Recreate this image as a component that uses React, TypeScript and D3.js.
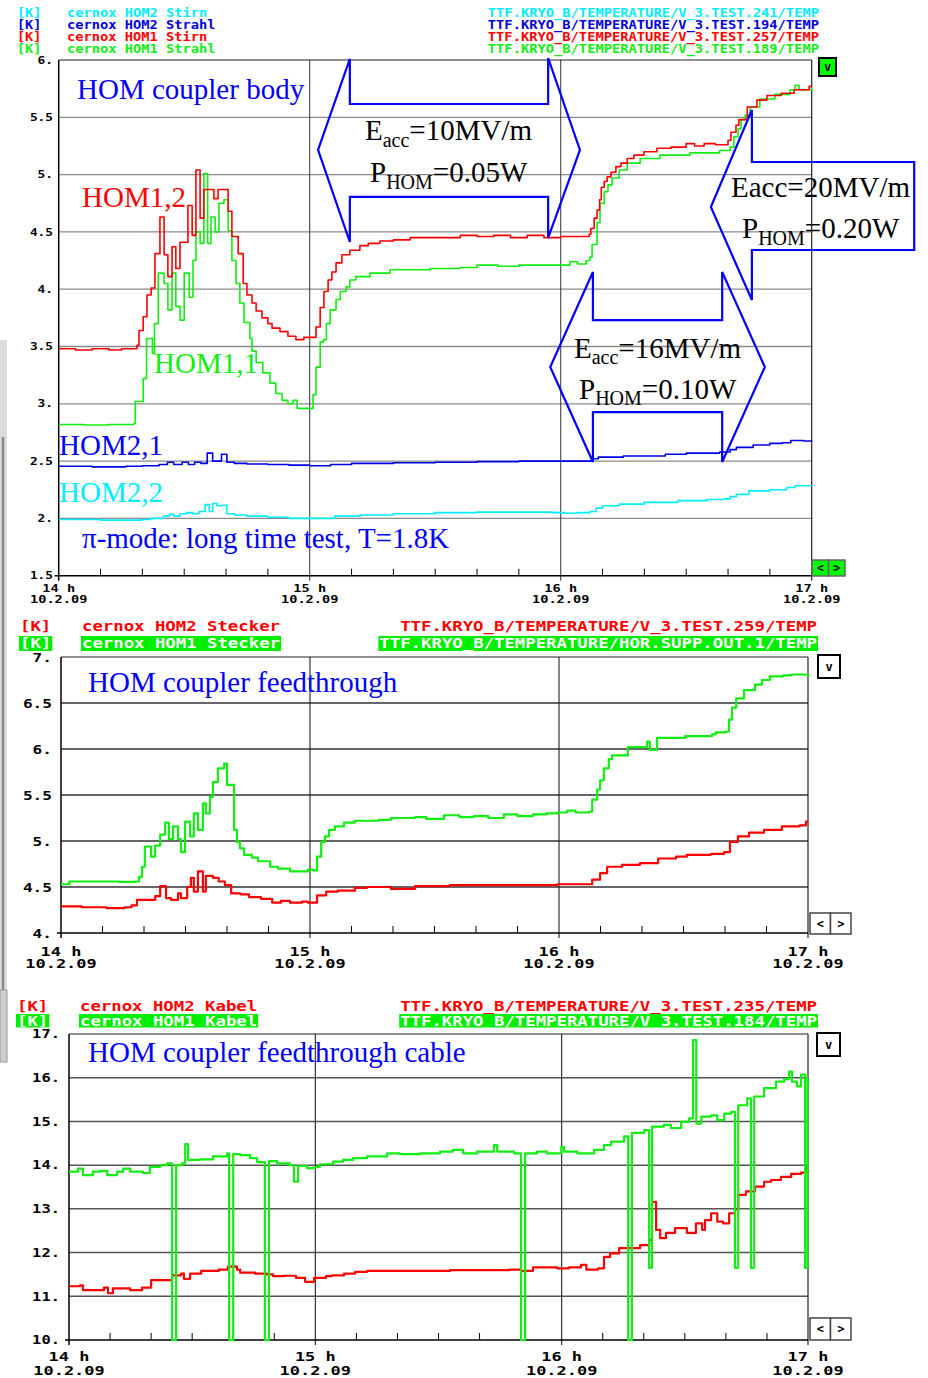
import React from "react";
import * as d3 from "d3";

type Pt = [number, number];

const MONO = "'DejaVu Sans Mono', 'Liberation Mono', monospace";
const SERIF = "'Liberation Serif', 'Times New Roman', serif";
const RED = "#ff0000";
const GREEN = "#11ee11";
const BLUE = "#0000ff";
const CYAN = "#00eeff";

// ---------- shared time axis (minutes after 14 h) ----------
const hourMinutes = [0, 60, 120, 180];
const hourLabels = ["14 h", "15 h", "16 h", "17 h"];
const dateLabels = ["10.2.09", "10.2.09", "10.2.09", "10.2.09"];

// ---------- panel 1: HOM coupler body ----------
const p1Levels = [6, 5.5, 5, 4.5, 4, 3.5, 3, 2.5, 2, 1.5];
const p1LevelLabels = ["6.", "5.5", "5.", "4.5", "4.", "3.5", "3.", "2.5", "2.", "1.5"];
const p1LegendNames = ["cernox HOM2 Stirn", "cernox HOM2 Strahl", "cernox HOM1 Stirn", "cernox HOM1 Strahl"];
const p1LegendChannels = [
  "TTF.KRYO_B/TEMPERATURE/V_3.TEST.241/TEMP",
  "TTF.KRYO_B/TEMPERATURE/V_3.TEST.194/TEMP",
  "TTF.KRYO_B/TEMPERATURE/V_3.TEST.257/TEMP",
  "TTF.KRYO_B/TEMPERATURE/V_3.TEST.189/TEMP",
];
const p1LegendColors = [CYAN, "#0000dd", RED, GREEN];

const p1Red: Pt[] = [
  [0, 3.48], [4, 3.47], [8, 3.48], [12, 3.47], [15, 3.48], [18.7, 3.51], [19.2, 3.64], [20.2, 3.76],
  [21.1, 3.95], [22.1, 4.01], [23, 4.31], [24.2, 4.63], [25.2, 4.3], [26.1, 4.11], [27.1, 4.37], [28, 4.18],
  [29, 4.41], [30.9, 4.73], [31.9, 4.47], [32.8, 5.04], [33.8, 4.62], [34.7, 4.87], [36.2, 4.87], [37.1, 4.79],
  [38.1, 4.87], [39.5, 4.87], [40.5, 4.68], [41.4, 4.46], [42.9, 4.31], [44.1, 4.05], [45, 3.95], [46.2, 3.88],
  [47.2, 3.81], [48.6, 3.75], [50, 3.7], [51, 3.66], [52.9, 3.63], [54.8, 3.59], [56.7, 3.56], [58.6, 3.58],
  [61.5, 3.67], [62.5, 3.84], [63.4, 3.98], [64.4, 4.08], [65.3, 4.15], [66.3, 4.23], [67.7, 4.3], [69.6, 4.34],
  [72, 4.38], [74, 4.4], [76.8, 4.42], [80, 4.43], [84, 4.45], [90, 4.45], [96, 4.47], [100, 4.46],
  [104, 4.47], [108, 4.45], [112, 4.47], [116, 4.45], [120, 4.46], [124, 4.46], [126.8, 4.48], [127.2, 4.53],
  [128, 4.62], [128.7, 4.69], [129.3, 4.78], [129.7, 4.89], [130.4, 4.94], [131.1, 4.98], [132, 5.02],
  [133.2, 5.07], [134.4, 5.1], [135.9, 5.14], [137.5, 5.17], [139.9, 5.2], [143, 5.23], [146.4, 5.24],
  [150, 5.27], [152, 5.25], [154.3, 5.27], [157, 5.26], [160, 5.3], [160.7, 5.37], [161.9, 5.43], [162.6, 5.48],
  [164.6, 5.59], [166.9, 5.65], [169.3, 5.69], [172.7, 5.71], [175.8, 5.74], [179.4, 5.77], [180, 5.77],
];
const p1Green: Pt[] = [
  [0, 2.82], [6, 2.815], [12, 2.82], [18, 2.83], [18.3, 3.02], [20.2, 3.22], [21, 3.57], [22.4, 3.44],
  [22.9, 3.7], [23.8, 4.14], [25.2, 4.05], [26.1, 3.82], [27.1, 4.14], [28, 3.85], [29, 3.73], [30, 4.14],
  [31.2, 3.93], [32.1, 4.25], [32.8, 4.5], [33.8, 4.4], [34.7, 5.01], [35.6, 4.4], [36.4, 4.63], [37.4, 4.5],
  [38.3, 4.75], [39.5, 4.78], [40.5, 4.51], [41.4, 4.25], [42.4, 4.05], [43.3, 3.88], [44.3, 3.71],
  [45.7, 3.57], [46.2, 3.46], [47.2, 3.36], [48.8, 3.27], [50.5, 3.18], [51.9, 3.09], [53.4, 3.03],
  [54.8, 3.0], [56, 3.03], [57, 2.96], [60.8, 3.08], [61.5, 3.32], [62.5, 3.54], [63.3, 3.56], [64, 3.7],
  [64.9, 3.82], [66.3, 3.91], [67.3, 3.98], [68.7, 4.02], [69.6, 4.08], [71, 4.11], [74.4, 4.14],
  [79.2, 4.17], [88.8, 4.18], [96, 4.19], [100, 4.21], [105, 4.2], [110, 4.21], [115, 4.21], [122.2, 4.24],
  [124, 4.22], [126.1, 4.25], [127, 4.28], [127.5, 4.39], [128.7, 4.58], [129.4, 4.75], [130.4, 4.85],
  [131.3, 4.91], [132.3, 4.97], [134, 5.04], [135.9, 5.1], [139, 5.14], [143.7, 5.17], [150.9, 5.19],
  [158, 5.21], [160.5, 5.24], [161.4, 5.33], [162.4, 5.4], [163.1, 5.48], [164.1, 5.52], [165.3, 5.59],
  [167.6, 5.66], [171.2, 5.7], [174.8, 5.74], [176, 5.78], [177, 5.74], [180, 5.76],
];
const p1Blue: Pt[] = [
  [0, 2.455], [8, 2.45], [16, 2.455], [20, 2.46], [24, 2.47], [26, 2.49], [27.5, 2.47], [29.5, 2.49],
  [31, 2.47], [32.5, 2.49], [34, 2.48], [35.5, 2.57], [36.8, 2.5], [38.9, 2.56], [40.2, 2.49], [42, 2.48],
  [45, 2.475], [50, 2.47], [55, 2.465], [60, 2.46], [65, 2.47], [70, 2.48], [80, 2.485], [90, 2.49],
  [100, 2.495], [110, 2.5], [118, 2.5], [126, 2.5], [127.5, 2.52], [129, 2.535], [135, 2.545], [145, 2.56],
  [150, 2.57], [158, 2.58], [160.5, 2.6], [162, 2.62], [166, 2.64], [170, 2.655], [173, 2.66], [175, 2.68],
  [178, 2.675], [180, 2.67],
];
const p1Cyan: Pt[] = [
  [0, 1.99], [10, 1.985], [20, 1.99], [22, 2.0], [25, 2.02], [26.5, 2.035], [27.5, 2.02], [29, 2.04],
  [30.5, 2.05], [32, 2.04], [33.5, 2.06], [35, 2.12], [36, 2.06], [36.8, 2.13], [37.8, 2.11], [39, 2.115],
  [40.2, 2.04], [42, 2.03], [45, 2.02], [50, 2.01], [55, 2.0], [60, 2.0], [66, 2.02], [72, 2.03], [80, 2.04],
  [90, 2.05], [100, 2.055], [110, 2.055], [118, 2.05], [121, 2.045], [124, 2.05], [127, 2.06], [128.5, 2.09],
  [130, 2.11], [134, 2.125], [140, 2.14], [148, 2.155], [155, 2.165], [159, 2.17], [160.5, 2.19],
  [162, 2.21], [165, 2.24], [170, 2.25], [174, 2.27], [176, 2.285], [180, 2.28],
];

// annotation arrows (minute, kelvin) in panel 1
const arrow10: Pt[] = [
  [62.0, 5.215], [69.6, 6.009], [69.6, 5.616], [117.0, 5.616], [117.0, 6.017], [124.6, 5.215],
  [117.0, 4.447], [117.0, 4.805], [69.6, 4.805], [69.6, 4.412],
];
const arrow16: Pt[] = [
  [117.5, 3.321], [127.7, 4.15], [127.7, 3.731], [158.6, 3.731], [158.6, 4.15], [168.8, 3.321],
  [158.6, 2.492], [158.6, 2.928], [127.7, 2.928], [127.7, 2.492],
];
const arrow20: Pt[] = [
  [155.9, 4.717], [165.7, 5.564], [165.7, 5.11], [204.5, 5.11], [204.5, 4.342], [165.7, 4.342], [165.7, 3.906],
];

// ---------- panel 2: HOM coupler feedthrough ----------
const p2Levels = [7, 6.5, 6, 5.5, 5, 4.5, 4];
const p2LevelLabels = ["7.", "6.5", "6.", "5.5", "5.", "4.5", "4."];
const p2LegendNames = ["cernox HOM2 Stecker", "cernox HOM1 Stecker"];
const p2LegendChannels = ["TTF.KRYO_B/TEMPERATURE/V_3.TEST.259/TEMP", "TTF.KRYO_B/TEMPERATURE/HOR.SUPP.OUT.1/TEMP"];

const p2Green: Pt[] = [
  [0, 4.53], [2, 4.56], [10, 4.56], [14, 4.555], [18, 4.56], [18.8, 4.61], [19.5, 4.72], [20.2, 4.94],
  [21.7, 4.83], [22.7, 4.95], [23.9, 5.07], [25.1, 5.2], [26, 5.02], [27, 5.16], [28.2, 5.02], [28.9, 4.88],
  [29.9, 5.21], [31.1, 5.05], [32, 5.3], [33, 5.12], [34.2, 5.41], [34.9, 5.3], [35.9, 5.48], [36.6, 5.64],
  [37.8, 5.79], [39.3, 5.84], [40, 5.61], [41.2, 5.61], [41.7, 5.12], [42.4, 4.99], [43.1, 4.92],
  [44.1, 4.85], [46, 4.82], [47.5, 4.78], [50.4, 4.72], [52.3, 4.7], [55.2, 4.67], [58.1, 4.67],
  [59.5, 4.69], [60.7, 4.68], [61.7, 4.83], [62.7, 4.99], [63.6, 5.05], [64.6, 5.12], [66, 5.16],
  [68.2, 5.2], [70.8, 5.22], [76.6, 5.23], [79.5, 5.25], [85.3, 5.26], [88, 5.24], [92.3, 5.28], [96, 5.26],
  [99.5, 5.27], [103, 5.25], [106.7, 5.29], [110, 5.27], [113.7, 5.29], [117, 5.3], [119.5, 5.31],
  [122, 5.33], [124, 5.31], [127.2, 5.32], [128, 5.45], [129.2, 5.56], [129.9, 5.66], [130.8, 5.79],
  [132, 5.89], [132.8, 5.93], [136.6, 6.02], [141.2, 6.08], [141.9, 5.99], [143.6, 6.12], [150.4, 6.14],
  [156.9, 6.16], [157.8, 6.18], [160.2, 6.19], [160.96, 6.32], [161.7, 6.45], [162.7, 6.55], [164.6, 6.64],
  [167.2, 6.7], [168.9, 6.75], [170.8, 6.79], [174, 6.8], [176, 6.81], [180, 6.78],
];
const p2Red: Pt[] = [
  [0, 4.29], [5, 4.28], [11, 4.27], [14, 4.27], [15.3, 4.28], [17, 4.3], [18.3, 4.36], [22.7, 4.4],
  [23.9, 4.51], [25.3, 4.38], [26.5, 4.36], [28.2, 4.43], [28.9, 4.38], [30.4, 4.5], [31.3, 4.6], [32, 4.45],
  [33, 4.67], [34.2, 4.45], [34.9, 4.62], [36.6, 4.6], [38, 4.56], [39.5, 4.52], [41, 4.43], [43.2, 4.42],
  [45.3, 4.39], [48.2, 4.37], [50.9, 4.33], [53, 4.35], [55.2, 4.33], [58.1, 4.34], [59.5, 4.33],
  [61.7, 4.41], [63.9, 4.45], [66.7, 4.46], [70.8, 4.49], [73.7, 4.5], [79.5, 4.48], [85.3, 4.51],
  [93.7, 4.52], [99.5, 4.52], [106.7, 4.52], [113.7, 4.52], [119.5, 4.53], [125.3, 4.53], [128, 4.58],
  [129.9, 4.65], [131.6, 4.72], [135.2, 4.74], [139.5, 4.76], [143.9, 4.81], [148.2, 4.83], [150.8, 4.85],
  [156.6, 4.86], [159.8, 4.88], [161.2, 4.99], [163.1, 5.05], [165.8, 5.09], [169.4, 5.12], [173.7, 5.16],
  [178, 5.17], [179.5, 5.21], [180, 5.21],
];

// ---------- panel 3: HOM coupler feedthrough cable ----------
const p3Levels = [17, 16, 15, 14, 13, 12, 11, 10];
const p3LevelLabels = ["17.", "16.", "15.", "14.", "13.", "12.", "11.", "10."];
const p3LegendNames = ["cernox HOM2 Kabel", "cernox HOM1 Kabel"];
const p3LegendChannels = ["TTF.KRYO_B/TEMPERATURE/V_3.TEST.235/TEMP", "TTF.KRYO_B/TEMPERATURE/V_3.TEST.184/TEMP"];

const p3Green: Pt[] = [
  [0, 13.85], [2.2, 13.92], [3.4, 13.77], [5.8, 13.85], [7.6, 13.87], [9.3, 13.77], [11.7, 13.85],
  [13.2, 13.92], [14.9, 13.85], [18, 13.82], [19.7, 13.96], [22.2, 14.0], [23.9, 14.04], [25.1, 10],
  [26.1, 14.0], [27.5, 14.04], [28.3, 14.48], [29, 14.12], [31.9, 14.13], [35.1, 14.2], [38.5, 14.27],
  [39, 10], [40, 14.25], [41.7, 14.23], [44.1, 14.16], [45.8, 14.07], [47.7, 10], [48.7, 14.09],
  [50.7, 14.04], [53.8, 14.0], [54.8, 13.62], [55.8, 13.98], [58, 13.93], [59.9, 13.96], [61.1, 14.02],
  [64.3, 14.08], [66.7, 14.12], [69.2, 14.16], [72.6, 14.2], [77.5, 14.27], [80.6, 14.25], [85.5, 14.27],
  [90.4, 14.31], [93.5, 14.35], [96, 14.27], [99.4, 14.31], [103.5, 14.46], [104.3, 14.31], [108.4, 14.27],
  [110.1, 10], [111.1, 14.27], [114, 14.31], [116.4, 14.27], [119.9, 14.41], [120.6, 14.31], [123.8, 14.27],
  [127.9, 14.35], [130.3, 14.46], [132, 14.54], [135.2, 14.66], [136.2, 10], [137.1, 14.74], [140.1, 14.8],
  [141.3, 11.65], [142, 14.88], [144.9, 14.92], [146.6, 14.85], [149.1, 14.99], [151, 15.07], [152, 16.86],
  [152.8, 14.95], [154, 15.11], [156.4, 15.14], [157.9, 15.03], [159.6, 15.18], [161.3, 15.22],
  [162.2, 11.65], [163, 15.37], [165.2, 15.53], [166.1, 11.65], [166.9, 15.57], [169.3, 15.76],
  [172.2, 15.91], [174.2, 15.97], [175.4, 16.14], [176.1, 15.91], [177.3, 15.8], [178.3, 16.07],
  [179.3, 11.65], [179.9, 16.0], [180, 16.0],
];
const p3Red: Pt[] = [
  [0, 11.23], [2.7, 11.25], [3.4, 11.14], [8.5, 11.2], [9.5, 11.07], [10.7, 11.18], [14.9, 11.14],
  [17.8, 11.2], [20, 11.37], [23.6, 11.37], [25.1, 11.48], [27.3, 11.52], [28, 11.4], [29.5, 11.52],
  [32.2, 11.58], [36.5, 11.61], [38.7, 11.68], [40.9, 11.61], [41.7, 11.54], [45.3, 11.52], [48.2, 11.5],
  [49.7, 11.46], [52.4, 11.47], [55.3, 11.42], [57.5, 11.33], [59.7, 11.42], [62.6, 11.46], [64.1, 11.48],
  [67, 11.52], [69.7, 11.56], [72.6, 11.58], [78.4, 11.58], [84.3, 11.58], [92.8, 11.6], [98.7, 11.6],
  [107.2, 11.61], [110.1, 11.58], [113, 11.66], [118.9, 11.64], [121.8, 11.66], [124.7, 11.72], [126, 11.61],
  [128.9, 11.64], [130.3, 11.9], [131.8, 11.98], [134, 12.1], [136.2, 12.1], [139.1, 12.17], [141.3, 12.29],
  [142, 13.16], [143, 12.52], [144, 12.33], [145.4, 12.45], [147.6, 12.56], [150.5, 12.45], [152.7, 12.67],
  [154.2, 12.52], [154.9, 12.74], [156.4, 12.9], [157.9, 12.71], [159.3, 12.67], [160.8, 12.9],
  [162.2, 12.99], [163, 13.32], [164.9, 13.4], [167.1, 13.51], [169.3, 13.62], [171, 13.66], [173.4, 13.73],
  [175.9, 13.8], [178.3, 13.83], [179.5, 13.96], [180, 13.96],
];

// ---------- helpers ----------
function Mono(props: {
  x: number; y: number; text: string; cw: number; size: number; fill: string;
  anchor?: "start" | "middle" | "end";
}) {
  const { x, y, text, cw, size, fill, anchor = "start" } = props;
  const len = text.length * cw;
  const x0 = anchor === "start" ? x : anchor === "end" ? x - len : x - len / 2;
  return (
    <text x={x0} y={y} fontFamily={MONO} fontWeight="bold" fontSize={size} fill={fill}
      textLength={len} lengthAdjust="spacingAndGlyphs" style={{ whiteSpace: "pre" }}>
      {text}
    </text>
  );
}

interface Series { data: Pt[]; color: string; width: number }
interface PanelCfg {
  left: number; right: number; top: number; bottom: number;
  domain: [number, number];
  levels: number[]; levelLabels: string[];
  series: Series[];
  yLabelRight: number; ySize: number; yCw: number;
  xBase1: number; xBase2: number; xSize: number; xCw: number;
  gridColor: string; gridWidth: number; hourColor: string;
  btnFill: string; btnStroke: string;
  vBtn: [number, number, number, number];
  navBtn: [number, number, number, number];
}

function Panel({ cfg }: { cfg: PanelCfg }) {
  const x = d3.scaleLinear().domain([0, 180]).range([cfg.left, cfg.right]);
  const y = d3.scaleLinear().domain(cfg.domain).range([cfg.bottom, cfg.top]);
  const line = d3.line<Pt>().x((d) => x(d[0])).y((d) => y(d[1])).curve(d3.curveStepAfter);
  const minor = d3.range(10, 180, 10).filter((m) => m % 60 !== 0);
  const [vx, vy, vw, vh] = cfg.vBtn;
  const [nx, ny, nw, nh] = cfg.navBtn;
  return (
    <g>
      {cfg.levels.map((v) =>
        v !== cfg.domain[0] && v !== cfg.domain[1] ? (
          <line key={"g" + v} x1={cfg.left} x2={cfg.right} y1={y(v)} y2={y(v)}
            stroke={cfg.gridColor} strokeWidth={cfg.gridWidth} />
        ) : null
      )}
      {[60, 120].map((m) => (
        <line key={"h" + m} x1={x(m)} x2={x(m)} y1={cfg.top} y2={cfg.bottom + 5} stroke={cfg.hourColor} strokeWidth={1.1} />
      ))}
      <line x1={cfg.left} x2={cfg.right} y1={cfg.top} y2={cfg.top} stroke="#222" strokeWidth={1.2} />
      <line x1={cfg.right} x2={cfg.right} y1={cfg.top} y2={cfg.bottom + 5} stroke="#222" strokeWidth={1.2} />
      <line x1={cfg.left} x2={cfg.left} y1={cfg.top} y2={cfg.bottom + 5} stroke="#000" strokeWidth={1.5} />
      <line x1={cfg.left - 4} x2={cfg.right} y1={cfg.bottom} y2={cfg.bottom} stroke="#000" strokeWidth={1.5} />
      {minor.map((m) => (
        <line key={"t" + m} x1={x(m)} x2={x(m)} y1={cfg.bottom} y2={cfg.bottom - 7} stroke="#000" strokeWidth={1} />
      ))}
      {cfg.series.map((s, i) => (
        <path key={"s" + i} d={line(s.data) || ""} fill="none" stroke={s.color} strokeWidth={s.width}
          strokeLinejoin="round" />
      ))}
      {cfg.levels.map((v, i) => (
        <Mono key={"yl" + v} x={cfg.yLabelRight} y={y(v) + cfg.ySize * 0.36} text={cfg.levelLabels[i]}
          cw={cfg.yCw} size={cfg.ySize} fill="#000" anchor="end" />
      ))}
      {hourMinutes.map((m, i) => (
        <g key={"xl" + m}>
          <Mono x={x(m)} y={cfg.xBase1} text={hourLabels[i]} cw={cfg.xCw} size={cfg.xSize} fill="#000" anchor="middle" />
          <Mono x={x(m)} y={cfg.xBase2} text={dateLabels[i]} cw={cfg.xCw} size={cfg.xSize} fill="#000" anchor="middle" />
        </g>
      ))}
      <rect x={vx} y={vy} width={vw} height={vh} fill={cfg.btnFill} stroke="#000" strokeWidth={2} />
      <text x={vx + vw / 2} y={vy + vh / 2 + 4} textAnchor="middle" fontFamily={MONO} fontWeight="bold"
        fontSize={12} fill="#000">v</text>
      <rect x={nx} y={ny} width={nw / 2} height={nh} fill={cfg.btnFill} stroke={cfg.btnStroke} strokeWidth={1.5} />
      <rect x={nx + nw / 2} y={ny} width={nw / 2} height={nh} fill={cfg.btnFill} stroke={cfg.btnStroke} strokeWidth={1.5} />
      <text x={nx + nw / 4} y={ny + nh / 2 + 4} textAnchor="middle" fontFamily={MONO} fontWeight="bold" fontSize={12} fill="#000">&lt;</text>
      <text x={nx + (3 * nw) / 4} y={ny + nh / 2 + 4} textAnchor="middle" fontFamily={MONO} fontWeight="bold" fontSize={12} fill="#000">&gt;</text>
    </g>
  );
}

const p1: PanelCfg = {
  left: 58.7, right: 811.7, top: 60, bottom: 575.7, domain: [1.5, 6],
  levels: p1Levels, levelLabels: p1LevelLabels,
  series: [
    { data: p1Cyan, color: CYAN, width: 1.6 },
    { data: p1Blue, color: "#0000e6", width: 1.6 },
    { data: p1Green, color: GREEN, width: 1.6 },
    { data: p1Red, color: RED, width: 1.6 },
  ],
  yLabelRight: 53, ySize: 10, yCw: 7.7,
  xBase1: 592, xBase2: 603, xSize: 11, xCw: 8.2,
  gridColor: "#8a8a8a", gridWidth: 1.3, hourColor: "#444",
  btnFill: "#00ff00", btnStroke: "#666",
  vBtn: [819, 58, 17, 18], navBtn: [812, 560, 33, 16],
};
const p2: PanelCfg = {
  left: 61, right: 808, top: 657, bottom: 933, domain: [4, 7],
  levels: p2Levels, levelLabels: p2LevelLabels,
  series: [
    { data: p2Green, color: GREEN, width: 2.2 },
    { data: p2Red, color: RED, width: 2.2 },
  ],
  yLabelRight: 52, ySize: 12.5, yCw: 9.7,
  xBase1: 956, xBase2: 968, xSize: 12.5, xCw: 10.2,
  gridColor: "#333", gridWidth: 1.5, hourColor: "#222",
  btnFill: "#ffffff", btnStroke: "#444",
  vBtn: [818, 655, 22, 23], navBtn: [810, 913, 41, 21],
};
const p3: PanelCfg = {
  left: 69, right: 808, top: 1034, bottom: 1340, domain: [10, 17],
  levels: p3Levels, levelLabels: p3LevelLabels,
  series: [
    { data: p3Red, color: RED, width: 2.2 },
    { data: p3Green, color: GREEN, width: 2.2 },
  ],
  yLabelRight: 60, ySize: 12, yCw: 9.3,
  xBase1: 1361, xBase2: 1375, xSize: 12.5, xCw: 10.2,
  gridColor: "#555", gridWidth: 1.5, hourColor: "#222",
  btnFill: "#ffffff", btnStroke: "#444",
  vBtn: [817, 1033, 23, 23], navBtn: [810, 1318, 41, 22],
};

function Arrows() {
  const x = d3.scaleLinear().domain([0, 180]).range([p1.left, p1.right]);
  const y = d3.scaleLinear().domain(p1.domain).range([p1.bottom, p1.top]);
  const path = d3.line<Pt>().x((d) => x(d[0])).y((d) => y(d[1]));
  return (
    <g fill="none" stroke={BLUE} strokeWidth={2.2} strokeLinejoin="miter">
      {[arrow10, arrow16, arrow20].map((a, i) => (
        <path key={i} d={(path(a) || "") + "Z"} />
      ))}
    </g>
  );
}

function Legend2(props: {
  names: string[]; channels: string[]; base1: number; base2: number; bgTop: number; bgH: number;
  kx: number; nx: number; cRight: number; cw: number; size: number;
}) {
  const { names, channels, base1, base2, bgTop, bgH, kx, nx, cRight, cw, size } = props;
  const l0 = channels[1].length * cw;
  return (
    <g>
      <Mono x={kx} y={base1} text="[K]" cw={cw} size={size} fill={RED} />
      <Mono x={nx} y={base1} text={names[0]} cw={cw} size={size} fill={RED} />
      <Mono x={cRight} y={base1} text={channels[0]} cw={cw} size={size} fill={RED} anchor="end" />
      <rect x={kx - 1} y={bgTop} width={3 * cw + 2} height={bgH} fill="#00ee00" />
      <rect x={nx - 1} y={bgTop} width={names[1].length * cw + 2} height={bgH} fill="#00ee00" />
      <rect x={cRight - l0 - 1} y={bgTop} width={l0 + 2} height={bgH} fill="#00ee00" />
      <Mono x={kx} y={base2} text="[K]" cw={cw} size={size} fill="#fff" />
      <Mono x={nx} y={base2} text={names[1]} cw={cw} size={size} fill="#fff" />
      <Mono x={cRight} y={base2} text={channels[1]} cw={cw} size={size} fill="#fff" anchor="end" />
    </g>
  );
}

export default function App() {
  const big = 29;
  const sub = 20;
  return (
    <svg width={928} height={1378} viewBox="0 0 928 1378"
      style={{ position: "absolute", left: 0, top: 0, background: "#fff" }}>
      <rect x={0} y={0} width={928} height={1378} fill="#fff" />
      {/* window chrome at the left edge */}
      <rect x={0} y={340} width={7} height={650} fill="#dcdcdc" />
      <line x1={3} x2={3} y1={437} y2={990} stroke="#8a8a8a" strokeWidth={2.5} />
      <rect x={0} y={990} width={7} height={72} fill="#cfcfcf" stroke="#999" strokeWidth={1} />

      {/* panel 1 legend */}
      {p1LegendNames.map((n, i) => (
        <g key={n}>
          <Mono x={17} y={17 + i * 12} text="[K]" cw={8.1} size={12.5} fill={p1LegendColors[i]} />
          <Mono x={67} y={17 + i * 12} text={n} cw={8.25} size={12.5} fill={p1LegendColors[i]} />
          <Mono x={819} y={17 + i * 12} text={p1LegendChannels[i]} cw={8.28} size={12.5} fill={p1LegendColors[i]} anchor="end" />
        </g>
      ))}

      <Panel cfg={p1} />
      <Arrows />

      {/* panel 1 annotations */}
      <g fontFamily={SERIF} fontSize={big}>
        <text x={77} y={99} fill={BLUE}>HOM coupler body</text>
        <text x={82} y={207} fill={RED}>HOM1,2</text>
        <text x={154} y={373} fill={GREEN}>HOM1,1</text>
        <text x={59} y={455} fill={BLUE}>HOM2,1</text>
        <text x={59} y={502} fill={CYAN}>HOM2,2</text>
        <text x={82} y={548} fill={BLUE}>π-mode: long time test, T=1.8K</text>
        <text x={365} y={140} fill="#000">E<tspan fontSize={sub} dy={7}>acc</tspan><tspan dy={-7}>=10MV/m</tspan></text>
        <text x={370} y={182} fill="#000">P<tspan fontSize={sub} dy={7}>HOM</tspan><tspan dy={-7}>=0.05W</tspan></text>
        <text x={574} y={358} fill="#000">E<tspan fontSize={sub} dy={6}>acc</tspan><tspan dy={-6}>=16MV/m</tspan></text>
        <text x={579} y={399} fill="#000">P<tspan fontSize={sub} dy={6}>HOM</tspan><tspan dy={-6}>=0.10W</tspan></text>
        <text x={731} y={197} fill="#000">Eacc=20MV/m</text>
        <text x={742} y={238} fill="#000">P<tspan fontSize={sub} dy={7}>HOM</tspan><tspan dy={-7}>=0.20W</tspan></text>
      </g>

      {/* panel 2 */}
      <Legend2 names={p2LegendNames} channels={p2LegendChannels} base1={631} base2={648} bgTop={636} bgH={15}
        kx={20} nx={82} cRight={817} cw={10.42} size={13.5} />
      <Panel cfg={p2} />
      <text x={88} y={692} fontFamily={SERIF} fontSize={big} fill={BLUE}>HOM coupler feedthrough</text>

      {/* panel 3 */}
      <Legend2 names={p3LegendNames} channels={p3LegendChannels} base1={1011} base2={1026} bgTop={1014} bgH={13.5}
        kx={17} nx={80} cRight={817} cw={10.42} size={13.5} />
      <Panel cfg={p3} />
      <text x={88} y={1062} fontFamily={SERIF} fontSize={big} fill={BLUE}>HOM coupler feedthrough cable</text>
    </svg>
  );
}
